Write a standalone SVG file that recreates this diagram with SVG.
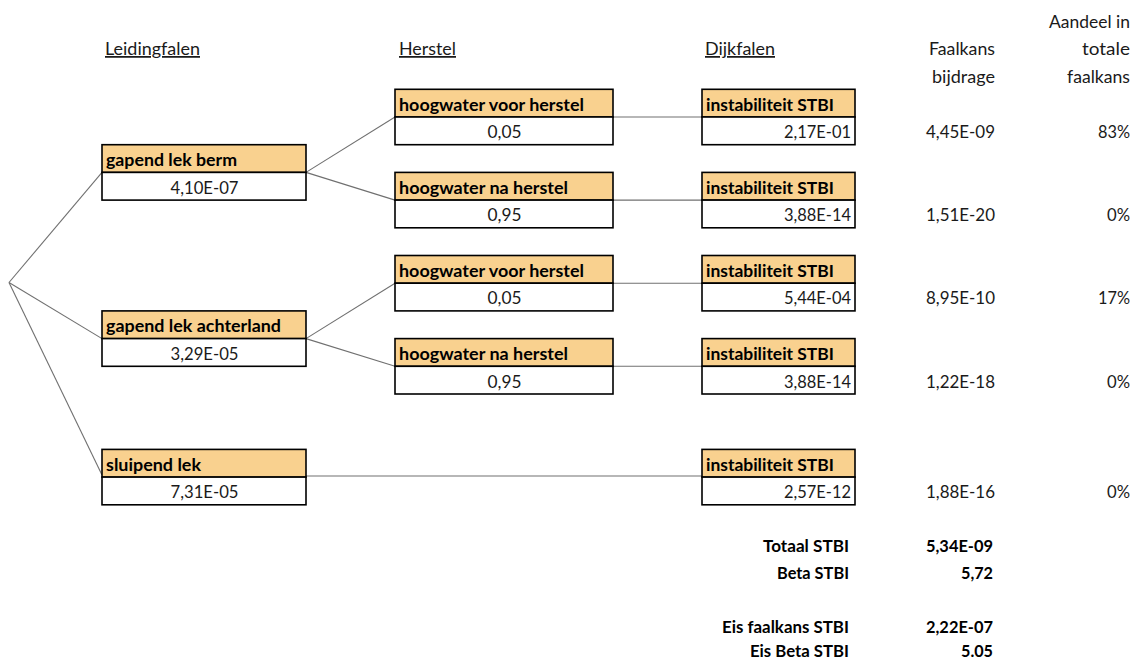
<svg xmlns="http://www.w3.org/2000/svg" width="1133" height="662" viewBox="0 0 1133 662">
<style>
  text { font-family: Lato, "Liberation Sans", sans-serif; font-size: 17.5px; fill: #1a1a1a; }
  .b { font-weight: bold; fill: #000; }
  .u { text-decoration: underline; }
  .m { text-anchor: middle; }
  .r { text-anchor: end; }
  .hd { fill: #F9D18F; stroke: #000; stroke-width: 1.6; }
  .vl { fill: #fff; stroke: #000; stroke-width: 1.6; }
  .c line { stroke: #707070; stroke-width: 1.1; }
</style>
<rect width="1133" height="662" fill="#fff"/>

<g id="headers">
  <text class="u" x="105" y="55" textLength="95" lengthAdjust="spacingAndGlyphs">Leidingfalen</text>
  <text class="u" x="399" y="55" textLength="57" lengthAdjust="spacingAndGlyphs">Herstel</text>
  <text class="u" x="705" y="55" textLength="70" lengthAdjust="spacingAndGlyphs">Dijkfalen</text>
  <text class="r" x="995" y="55" textLength="66" lengthAdjust="spacingAndGlyphs">Faalkans</text>
  <text class="r" x="995" y="82.7" textLength="63" lengthAdjust="spacingAndGlyphs">bijdrage</text>
  <text class="r" x="1130" y="27.5" textLength="81" lengthAdjust="spacingAndGlyphs">Aandeel in</text>
  <text class="r" x="1130" y="55" textLength="48" lengthAdjust="spacingAndGlyphs">totale</text>
  <text class="r" x="1130" y="82.7" textLength="63" lengthAdjust="spacingAndGlyphs">faalkans</text>
</g>

<g id="connectors" class="c">
  <line x1="9" y1="282.5" x2="102" y2="172.4"/>
  <line x1="9" y1="282.5" x2="102" y2="338.6"/>
  <line x1="9" y1="282.5" x2="102" y2="475"/>
  <line x1="306" y1="172.4" x2="395" y2="117"/>
  <line x1="306" y1="172.4" x2="395" y2="200.1"/>
  <line x1="306" y1="338.6" x2="395" y2="283.2"/>
  <line x1="306" y1="338.6" x2="395" y2="366.3"/>
  <line x1="613" y1="117" x2="702" y2="117"/>
  <line x1="613" y1="200.1" x2="702" y2="200.1"/>
  <line x1="613" y1="283.2" x2="702" y2="283.2"/>
  <line x1="613" y1="366.3" x2="702" y2="366.3"/>
  <line x1="306" y1="476" x2="702" y2="476"/>
</g>

<g id="node-gapend-lek-berm">
  <rect class="hd" x="102" y="144.7" width="204" height="27.7"/>
  <rect class="vl" x="102" y="172.4" width="204" height="27.7"/>
  <text class="b" x="106" y="165.9" textLength="131" lengthAdjust="spacingAndGlyphs">gapend lek berm</text>
  <text class="m" x="204.5" y="193.6" textLength="68" lengthAdjust="spacingAndGlyphs">4,10E-07</text>
</g>
<g id="node-gapend-lek-achterland">
  <rect class="hd" x="102" y="310.9" width="204" height="27.7"/>
  <rect class="vl" x="102" y="338.6" width="204" height="27.7"/>
  <text class="b" x="106" y="332.1" textLength="175" lengthAdjust="spacingAndGlyphs">gapend lek achterland</text>
  <text class="m" x="204.5" y="359.8" textLength="68" lengthAdjust="spacingAndGlyphs">3,29E-05</text>
</g>
<g id="node-sluipend-lek">
  <rect class="hd" x="102" y="449.4" width="204" height="27.7"/>
  <rect class="vl" x="102" y="477.1" width="204" height="27.7"/>
  <text class="b" x="106" y="470.6" textLength="95" lengthAdjust="spacingAndGlyphs">sluipend lek</text>
  <text class="m" x="204.5" y="498.3" textLength="68" lengthAdjust="spacingAndGlyphs">7,31E-05</text>
</g>

<g id="node-herstel-1">
  <rect class="hd" x="395" y="89.3" width="218" height="27.7"/>
  <rect class="vl" x="395" y="117" width="218" height="27.7"/>
  <text class="b" x="399" y="110.5" textLength="185" lengthAdjust="spacingAndGlyphs">hoogwater voor herstel</text>
  <text class="m" x="504.5" y="138.2" textLength="34" lengthAdjust="spacingAndGlyphs">0,05</text>
</g>
<g id="node-herstel-2">
  <rect class="hd" x="395" y="172.4" width="218" height="27.7"/>
  <rect class="vl" x="395" y="200.1" width="218" height="27.7"/>
  <text class="b" x="399" y="193.6" textLength="169" lengthAdjust="spacingAndGlyphs">hoogwater na herstel</text>
  <text class="m" x="504.5" y="221.3" textLength="34" lengthAdjust="spacingAndGlyphs">0,95</text>
</g>
<g id="node-herstel-3">
  <rect class="hd" x="395" y="255.5" width="218" height="27.7"/>
  <rect class="vl" x="395" y="283.2" width="218" height="27.7"/>
  <text class="b" x="399" y="276.7" textLength="185" lengthAdjust="spacingAndGlyphs">hoogwater voor herstel</text>
  <text class="m" x="504.5" y="304.4" textLength="34" lengthAdjust="spacingAndGlyphs">0,05</text>
</g>
<g id="node-herstel-4">
  <rect class="hd" x="395" y="338.6" width="218" height="27.7"/>
  <rect class="vl" x="395" y="366.3" width="218" height="27.7"/>
  <text class="b" x="399" y="359.8" textLength="169" lengthAdjust="spacingAndGlyphs">hoogwater na herstel</text>
  <text class="m" x="504.5" y="387.5" textLength="34" lengthAdjust="spacingAndGlyphs">0,95</text>
</g>

<g id="node-dijk-1">
  <rect class="hd" x="702" y="89.3" width="153" height="27.7"/>
  <rect class="vl" x="702" y="117" width="153" height="27.7"/>
  <text class="b" x="706" y="110.5" textLength="128" lengthAdjust="spacingAndGlyphs">instabiliteit STBI</text>
  <text class="r" x="851" y="138.2" textLength="67" lengthAdjust="spacingAndGlyphs">2,17E-01</text>
</g>
<g id="node-dijk-2">
  <rect class="hd" x="702" y="172.4" width="153" height="27.7"/>
  <rect class="vl" x="702" y="200.1" width="153" height="27.7"/>
  <text class="b" x="706" y="193.6" textLength="128" lengthAdjust="spacingAndGlyphs">instabiliteit STBI</text>
  <text class="r" x="851" y="221.3" textLength="67" lengthAdjust="spacingAndGlyphs">3,88E-14</text>
</g>
<g id="node-dijk-3">
  <rect class="hd" x="702" y="255.5" width="153" height="27.7"/>
  <rect class="vl" x="702" y="283.2" width="153" height="27.7"/>
  <text class="b" x="706" y="276.7" textLength="128" lengthAdjust="spacingAndGlyphs">instabiliteit STBI</text>
  <text class="r" x="851" y="304.4" textLength="67" lengthAdjust="spacingAndGlyphs">5,44E-04</text>
</g>
<g id="node-dijk-4">
  <rect class="hd" x="702" y="338.6" width="153" height="27.7"/>
  <rect class="vl" x="702" y="366.3" width="153" height="27.7"/>
  <text class="b" x="706" y="359.8" textLength="128" lengthAdjust="spacingAndGlyphs">instabiliteit STBI</text>
  <text class="r" x="851" y="387.5" textLength="67" lengthAdjust="spacingAndGlyphs">3,88E-14</text>
</g>
<g id="node-dijk-5">
  <rect class="hd" x="702" y="449.4" width="153" height="27.7"/>
  <rect class="vl" x="702" y="477.1" width="153" height="27.7"/>
  <text class="b" x="706" y="470.6" textLength="128" lengthAdjust="spacingAndGlyphs">instabiliteit STBI</text>
  <text class="r" x="851" y="498.3" textLength="67" lengthAdjust="spacingAndGlyphs">2,57E-12</text>
</g>

<g id="results">
  <text class="r" x="995" y="138.2" textLength="69" lengthAdjust="spacingAndGlyphs">4,45E-09</text>
  <text class="r" x="1130" y="138.2" textLength="32" lengthAdjust="spacingAndGlyphs">83%</text>
  <text class="r" x="995" y="221.3" textLength="69" lengthAdjust="spacingAndGlyphs">1,51E-20</text>
  <text class="r" x="1130" y="221.3" textLength="23" lengthAdjust="spacingAndGlyphs">0%</text>
  <text class="r" x="995" y="304.4" textLength="69" lengthAdjust="spacingAndGlyphs">8,95E-10</text>
  <text class="r" x="1130" y="304.4" textLength="32" lengthAdjust="spacingAndGlyphs">17%</text>
  <text class="r" x="995" y="387.5" textLength="69" lengthAdjust="spacingAndGlyphs">1,22E-18</text>
  <text class="r" x="1130" y="387.5" textLength="23" lengthAdjust="spacingAndGlyphs">0%</text>
  <text class="r" x="995" y="498.3" textLength="69" lengthAdjust="spacingAndGlyphs">1,88E-16</text>
  <text class="r" x="1130" y="498.3" textLength="23" lengthAdjust="spacingAndGlyphs">0%</text>
</g>

<g id="totals">
  <text class="b r" x="849" y="552" textLength="86" lengthAdjust="spacingAndGlyphs">Totaal STBI</text>
  <text class="b r" x="993" y="552" textLength="67" lengthAdjust="spacingAndGlyphs">5,34E-09</text>
  <text class="b r" x="849" y="579" textLength="72" lengthAdjust="spacingAndGlyphs">Beta STBI</text>
  <text class="b r" x="993" y="579" textLength="32" lengthAdjust="spacingAndGlyphs">5,72</text>
  <text class="b r" x="849" y="633" textLength="127" lengthAdjust="spacingAndGlyphs">Eis faalkans STBI</text>
  <text class="b r" x="993" y="633" textLength="67" lengthAdjust="spacingAndGlyphs">2,22E-07</text>
  <text class="b r" x="849" y="656.5" textLength="99" lengthAdjust="spacingAndGlyphs">Eis Beta STBI</text>
  <text class="b r" x="993" y="656.5" textLength="32" lengthAdjust="spacingAndGlyphs">5.05</text>
</g>
</svg>
